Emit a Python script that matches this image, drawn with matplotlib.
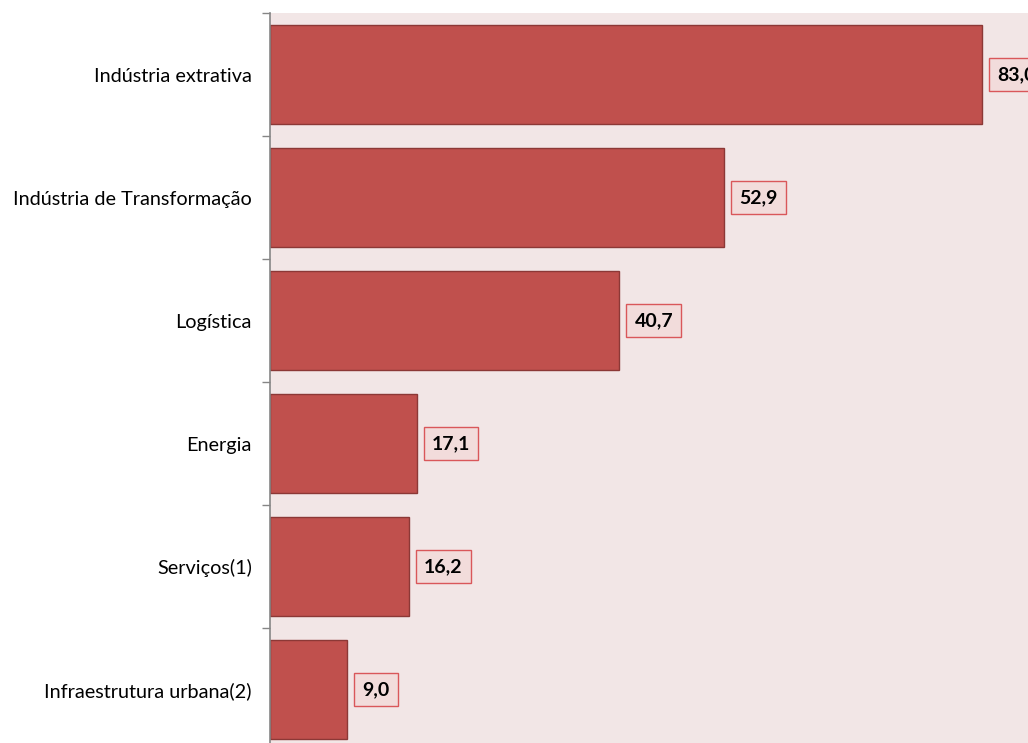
import matplotlib
matplotlib.use("Agg")
import matplotlib.pyplot as plt
import numpy as np

# --- Data ---
categories = [
    "Indústria extrativa",
    "Indústria de Transformação",
    "Logística",
    "Energia",
    "Serviços(1)",
    "Infraestrutura urbana(2)",
]
values = [83.0, 52.9, 40.7, 17.1, 16.2, 9.0]

plt.rcParams["font.family"] = ["Lato", "DejaVu Sans"]

fig = plt.figure(figsize=(10.28, 7.43), dpi=100)
ax = fig.add_axes([0.2626, -0.0108, 0.8346, 0.9933])
ax.set_facecolor("#F2E6E6")

y = np.arange(len(categories))
ax.barh(y, values, height=0.8, color="#C0504D", edgecolor="#8C3836", linewidth=1.0)

for yi, v in zip(y, values):
    ax.annotate(f"{v:.1f}".replace(".", ","), xy=(v, yi), xytext=(11, 0),
                textcoords="offset points", ha="left", va="center",
                fontsize=14, fontweight="bold", color="black",
                bbox=dict(boxstyle="square,pad=0.42", facecolor="#F2DCDB",
                          edgecolor="#D9575A", linewidth=1.0))

ax.set_xlim(0, 100)
ax.set_ylim(len(categories) - 0.5, -0.5)

# labels centred on bars, tick marks on category boundaries
ax.set_yticks(y)
ax.set_yticklabels(categories, fontsize=14.3)
ax.tick_params(axis="y", which="major", length=0, pad=13)
ax.set_yticks(np.arange(len(categories) + 1) - 0.5, minor=True)
ax.tick_params(axis="y", which="minor", length=6, color="#868686", width=1)
ax.set_xticks([])

for s in ["top", "right", "bottom"]:
    ax.spines[s].set_visible(False)
ax.spines["left"].set_color("#868686")
ax.spines["left"].set_linewidth(1.2)

fig.savefig("out.png", dpi=100)
